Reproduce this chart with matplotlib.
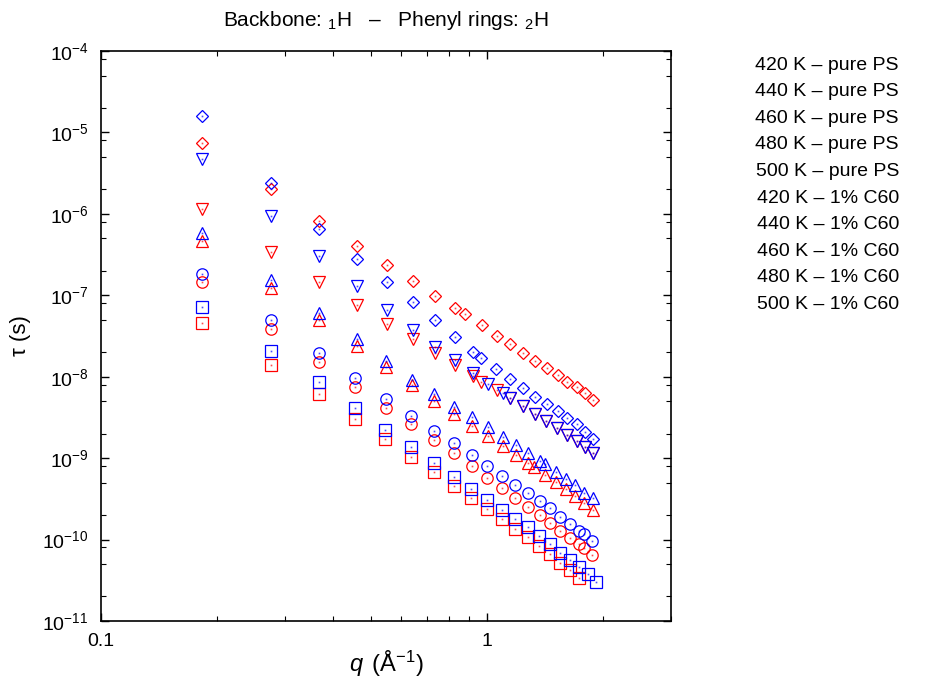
import matplotlib
matplotlib.use("Agg")
import matplotlib.pyplot as plt
from matplotlib.ticker import LogLocator, NullFormatter, FixedLocator, FixedFormatter

plt.rcParams['font.family'] = ['Liberation Sans', 'DejaVu Sans']
plt.rcParams['mathtext.fontset'] = 'custom'
plt.rcParams['mathtext.rm'] = 'Liberation Sans'
plt.rcParams['mathtext.it'] = 'Liberation Sans:italic'
plt.rcParams['mathtext.bf'] = 'Liberation Sans:bold'

### data: q in 1/Angstrom, tau in s ###

# 420 K - pure PS (red diamonds)
q_420_ps = [0.183, 0.275, 0.368, 0.460, 0.551, 0.644, 0.735, 0.828, 0.877, 0.969,
            1.060, 1.151, 1.242, 1.335, 1.429, 1.526, 1.616, 1.710, 1.800, 1.889]
t_420_ps = [7.35e-6, 2.00e-6, 8.24e-7, 4.06e-7, 2.36e-7, 1.48e-7, 9.89e-8, 6.92e-8, 5.89e-8, 4.28e-8,
            3.19e-8, 2.52e-8, 1.94e-8, 1.57e-8, 1.27e-8, 1.04e-8, 8.69e-9, 7.48e-9, 6.26e-9, 5.18e-9]

# 440 K - pure PS (red down triangles)
q_440_ps = [0.183, 0.275, 0.368, 0.460, 0.551, 0.644, 0.735, 0.825, 0.918, 0.965,
            1.060, 1.151, 1.238, 1.335, 1.425, 1.520, 1.616, 1.710, 1.800, 1.889]
t_440_ps = [1.15e-6, 3.43e-7, 1.47e-7, 7.60e-8, 4.44e-8, 2.87e-8, 1.94e-8, 1.39e-8, 1.03e-8, 8.69e-9,
            6.87e-9, 5.48e-9, 4.33e-9, 3.48e-9, 2.84e-9, 2.35e-9, 1.92e-9, 1.62e-9, 1.38e-9, 1.17e-9]

# 460 K - pure PS (red up triangles)
q_460_ps = [0.183, 0.275, 0.368, 0.460, 0.549, 0.639, 0.730, 0.822, 0.916, 1.008,
            1.099, 1.189, 1.280, 1.327, 1.417, 1.511, 1.604, 1.696, 1.790, 1.882]
t_460_ps = [4.68e-7, 1.24e-7, 4.97e-8, 2.38e-8, 1.32e-8, 7.91e-9, 5.08e-9, 3.48e-9, 2.50e-9, 1.87e-9,
            1.41e-9, 1.09e-9, 8.64e-10, 7.72e-10, 6.21e-10, 5.05e-10, 4.18e-10, 3.46e-10, 2.79e-10, 2.31e-10]

# 480 K - pure PS (red circles)
q_480_ps = [0.183, 0.275, 0.368, 0.454, 0.547, 0.635, 0.730, 0.822, 0.916, 1.000,
            1.094, 1.184, 1.280, 1.373, 1.460, 1.550, 1.643, 1.731, 1.783, 1.871]
t_480_ps = [1.44e-7, 3.89e-8, 1.53e-8, 7.54e-9, 4.16e-9, 2.60e-9, 1.67e-9, 1.15e-9, 8.01e-10, 5.75e-10,
            4.34e-10, 3.27e-10, 2.53e-10, 2.00e-10, 1.61e-10, 1.29e-10, 1.06e-10, 8.75e-11, 7.95e-11, 6.47e-11]

# 500 K - pure PS (red squares)
q_500_ps = [0.183, 0.275, 0.368, 0.454, 0.545, 0.635, 0.728, 0.820, 0.912, 1.000,
            1.094, 1.180, 1.276, 1.368, 1.457, 1.548, 1.640, 1.731]
t_500_ps = [4.53e-8, 1.39e-8, 6.08e-9, 3.00e-9, 1.72e-9, 1.02e-9, 6.70e-10, 4.55e-10, 3.21e-10, 2.35e-10,
            1.77e-10, 1.34e-10, 1.07e-10, 8.34e-11, 6.59e-11, 5.20e-11, 4.23e-11, 3.35e-11]

# 420 K - 1% C60 (blue diamonds)
q_420_c60 = [0.183, 0.275, 0.368, 0.460, 0.551, 0.644, 0.735, 0.828, 0.920, 0.965,
             1.058, 1.151, 1.242, 1.335, 1.429, 1.526, 1.616, 1.710, 1.800, 1.889]
t_420_c60 = [1.60e-5, 2.37e-6, 6.57e-7, 2.81e-7, 1.47e-7, 8.34e-8, 5.01e-8, 3.10e-8, 2.03e-8, 1.68e-8,
             1.24e-8, 9.30e-9, 7.33e-9, 5.68e-9, 4.62e-9, 3.79e-9, 3.14e-9, 2.60e-9, 2.11e-9, 1.72e-9]

# 440 K - 1% C60 (blue down triangles)
q_440_c60 = [0.183, 0.275, 0.368, 0.460, 0.551, 0.644, 0.735, 0.828, 0.918, 1.009,
             1.102, 1.151, 1.238, 1.335, 1.425, 1.520, 1.616, 1.710, 1.800, 1.889]
t_440_c60 = [4.68e-6, 9.41e-7, 3.04e-7, 1.30e-7, 6.60e-8, 3.75e-8, 2.34e-8, 1.61e-8, 1.12e-8, 8.21e-9,
             6.37e-9, 5.48e-9, 4.33e-9, 3.48e-9, 2.84e-9, 2.35e-9, 1.92e-9, 1.62e-9, 1.38e-9, 1.17e-9]

# 460 K - 1% C60 (blue up triangles)
q_460_c60 = [0.183, 0.275, 0.368, 0.460, 0.549, 0.639, 0.730, 0.822, 0.914, 1.008,
             1.099, 1.189, 1.280, 1.371, 1.417, 1.511, 1.604, 1.696, 1.790, 1.882]
t_460_c60 = [5.77e-7, 1.54e-7, 6.01e-8, 2.88e-8, 1.55e-8, 9.19e-9, 6.08e-9, 4.28e-9, 3.17e-9, 2.39e-9,
             1.83e-9, 1.45e-9, 1.17e-9, 9.30e-10, 8.40e-10, 6.82e-10, 5.59e-10, 4.68e-10, 3.77e-10, 3.21e-10]

# 480 K - 1% C60 (blue circles)
q_480_c60 = [0.183, 0.275, 0.368, 0.454, 0.547, 0.635, 0.730, 0.822, 0.916, 1.000,
             1.094, 1.184, 1.280, 1.373, 1.460, 1.550, 1.643, 1.731, 1.783, 1.871]
t_480_c60 = [1.81e-7, 4.97e-8, 1.97e-8, 9.56e-9, 5.28e-9, 3.29e-9, 2.16e-9, 1.52e-9, 1.09e-9, 8.01e-10,
             6.09e-10, 4.68e-10, 3.70e-10, 3.00e-10, 2.42e-10, 1.91e-10, 1.55e-10, 1.29e-10, 1.17e-10, 9.61e-11]

# 500 K - 1% C60 (blue squares)
q_500_c60 = [0.183, 0.275, 0.368, 0.454, 0.545, 0.635, 0.728, 0.820, 0.912, 1.000,
             1.094, 1.180, 1.276, 1.368, 1.457, 1.548, 1.638, 1.731, 1.826, 1.912]
t_500_c60 = [7.24e-8, 2.07e-8, 8.54e-9, 4.09e-9, 2.22e-9, 1.36e-9, 8.79e-10, 5.92e-10, 4.18e-10, 3.06e-10,
             2.31e-10, 1.77e-10, 1.42e-10, 1.11e-10, 8.75e-11, 6.90e-11, 5.61e-11, 4.57e-11, 3.75e-11, 2.99e-11]

labels = ['420 K \u2013 pure PS', '440 K \u2013 pure PS', '460 K \u2013 pure PS',
          '480 K \u2013 pure PS', '500 K \u2013 pure PS',
          '420 K \u2013 1% C60', '440 K \u2013 1% C60', '460 K \u2013 1% C60',
          '480 K \u2013 1% C60', '500 K \u2013 1% C60']

x_ticks = [0.1, 1]
x_tick_labels = ['0.1', '1']

#######################
### build the plot ###
#######################

RED = '#ff0000'
BLUE = '#0000ff'

fig = plt.figure(figsize=(9.29, 6.89), dpi=100)
ax = fig.add_axes([101 / 929, 1 - 621 / 689, 570 / 929, 570 / 689])

series = [
    (q_420_ps, t_420_ps, 'D', 5.8, RED),
    (q_440_ps, t_440_ps, 'v', 8.0, RED),
    (q_460_ps, t_460_ps, '^', 8.0, RED),
    (q_480_ps, t_480_ps, 'o', 8.2, RED),
    (q_500_ps, t_500_ps, 's', 8.0, RED),
    (q_420_c60, t_420_c60, 'D', 5.8, BLUE),
    (q_440_c60, t_440_c60, 'v', 8.0, BLUE),
    (q_460_c60, t_460_c60, '^', 8.0, BLUE),
    (q_480_c60, t_480_c60, 'o', 8.2, BLUE),
    (q_500_c60, t_500_c60, 's', 8.0, BLUE),
]

for q, t, m, ms, c in series:
    ax.plot(q, t, ls='none', marker=m, ms=ms, mfc='none', mec=c, mew=0.9)
    # tiny dot in the middle of every point
    ax.plot(q, t, ls='none', marker='s', ms=1.2, mfc=c, mec='none', alpha=0.7)

ax.set_xscale('log')
ax.set_yscale('log')
ax.set_xlim(0.1, 3.0)
ax.set_ylim(1e-11, 1e-4)

ax.xaxis.set_major_locator(FixedLocator(x_ticks))
ax.xaxis.set_major_formatter(FixedFormatter(x_tick_labels))
ax.xaxis.set_minor_locator(LogLocator(base=10, subs=(2, 3, 4, 5, 6, 7, 8, 9)))
ax.xaxis.set_minor_formatter(NullFormatter())
ax.yaxis.set_major_locator(LogLocator(base=10, numticks=20))
ax.yaxis.set_minor_locator(LogLocator(base=10, subs=(2, 5, 8), numticks=20))
ax.yaxis.set_minor_formatter(NullFormatter())

ax.tick_params(which='both', direction='in', top=True, right=True, labelsize=14)
ax.tick_params(axis='x', which='both', pad=9)
ax.tick_params(axis='y', which='both', pad=9)
ax.tick_params(which='major', length=6, width=1.0)
ax.tick_params(which='minor', length=3.5, width=0.8)
for sp in ax.spines.values():
    sp.set_linewidth(1.2)

ax.set_xlabel(r'$q\,$ (Å$^{-1}$)', fontsize=17, labelpad=-1)
ax.set_ylabel('\u03c4 (s)', fontsize=16, labelpad=8)

fig.text(386 / 929, 1 - 20 / 689, 'Backbone: $_1$H   \u2013   Phenyl rings: $_2$H',
         ha='center', va='center', fontsize=15)

# text-only key on the right
for i, lab in enumerate(labels):
    fig.text(899 / 929, 1 - (65 + 26.6 * i) / 689, lab, ha='right', va='center', fontsize=14)

fig.savefig('out.png', dpi=100)
